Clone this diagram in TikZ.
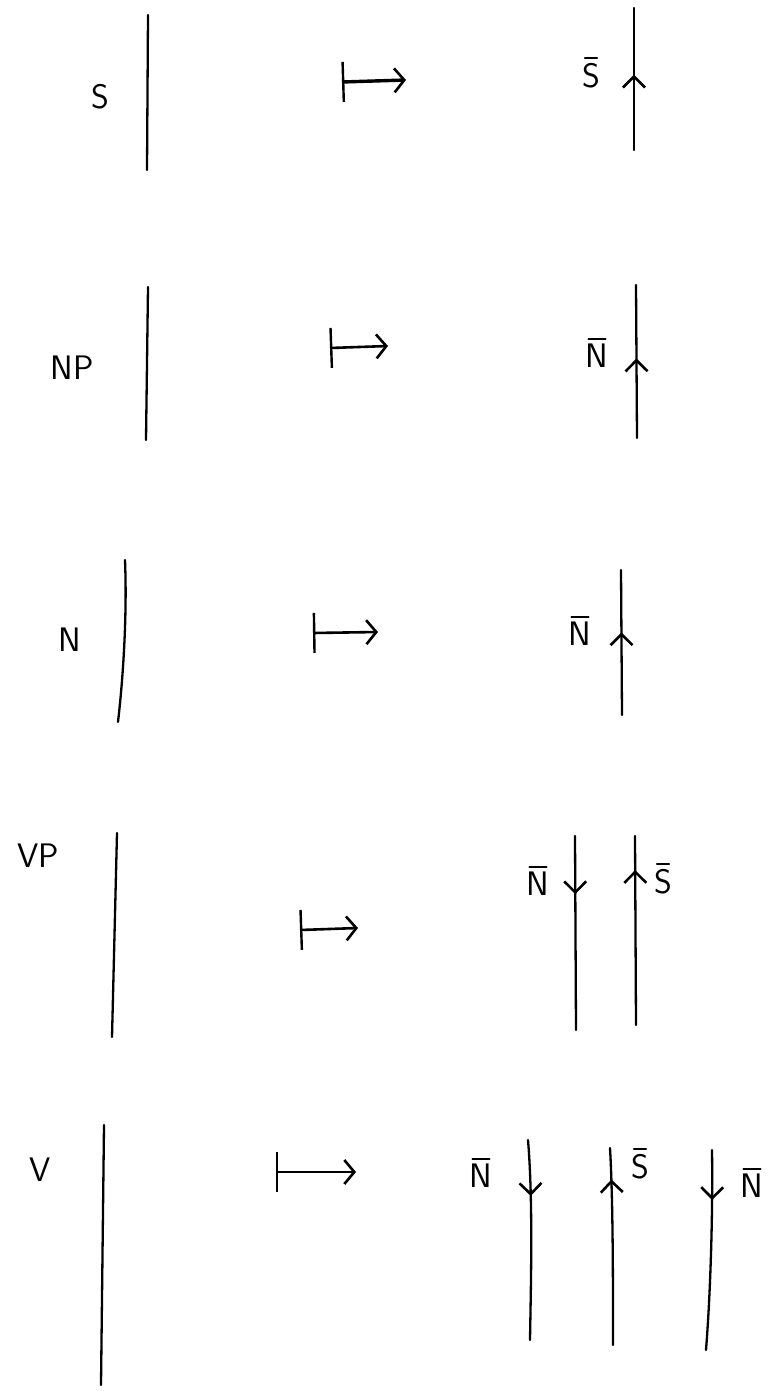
\documentclass[tikz,border=0pt]{standalone}
\usetikzlibrary{arrows.meta,decorations.markings}
\begin{document}
\begin{tikzpicture}[x=0.5pt,y=-0.5pt,
  every node/.style={font=\sffamily\fontsize{17}{17}\selectfont, inner sep=0pt},
  strand/.style={line width=1.15pt, line cap=round},
  flow/.style={strand, postaction={decorate},
    decoration={markings, mark=at position #1 with {\arrow{Straight Barb[length=5.5pt,width=11pt,line width=1.3pt]}}}},
  mapsto/.style={line width=1.3pt, {Bar[width=20pt,line width=1.2pt]}-{Straight Barb[length=5pt,width=12pt,line width=1.3pt]}},
  barline/.style={line width=0.8pt, line cap=round}
]
\useasboundingbox (0,0) rectangle (768,1391);

% overline drawn above a label node
\newcommand{\barover}[1]{\draw[barline] ([xshift=1.5pt,yshift=2.5pt]#1.north west) -- ([xshift=-1.5pt,yshift=2.5pt]#1.north east);}

% ---------- S ----------
\node (lS) at (100,97) {S};
\draw[strand] (148,15) -- (147,170);
\coordinate (mS1) at (342,82); \coordinate (mS2) at (406,80);
\draw[mapsto, line width=1.7pt] (mS1) -- (mS2);
\node (rS) at (591,76) {S}; \barover{rS}
\draw[flow=0.53] (634,150) -- (634,8);

% ---------- NP ----------
\node (lNP) at (72,368) {NP};
\draw[strand] (148,287) -- (146,440);
\coordinate (mNP1) at (330,348); \coordinate (mNP2) at (388,346);
\draw[mapsto] (mNP1) -- (mNP2);
\node (rNP) at (597,356) {N}; \barover{rNP}
\draw[flow=0.52] (637,438) -- (636,285);

% ---------- N ----------
\node (lN) at (70,640) {N};
\draw[strand] (125,560) .. controls (127,610) and (124,670) .. (118,722);
\coordinate (mN1) at (313,633); \coordinate (mN2) at (378,632);
\draw[mapsto] (mN1) -- (mN2);
\node (rN) at (580,634) {N}; \barover{rN}
\draw[flow=0.57] (622,715) -- (621,570);

% ---------- VP ----------
\node (lVP) at (38,856) {VP};
\draw[strand] (117,833) -- (112,1037);
\coordinate (mVP1) at (300,930); \coordinate (mVP2) at (358,928);
\draw[mapsto] (mVP1) -- (mVP2);
\node (rVP1) at (538,884) {N}; \barover{rVP1}
\draw[flow=0.3] (575,836) -- (576,1030);
\draw[flow=0.82] (636,1025) -- (635,836);
\node (rVP2) at (663,882) {S}; \barover{rVP2}

% ---------- V ----------
\node (lV) at (40,1170) {V};
\draw[strand] (104,1125) -- (101,1385);
\coordinate (mV1) at (276,1172); \coordinate (mV2) at (356,1172);
\draw[mapsto] (mV1) -- (mV2);
\node (rV1) at (481,1176) {N}; \barover{rV1}
\draw[flow=0.28] (528,1140) .. controls (533,1200) and (531,1280) .. (530,1340);
\draw[flow=0.84] (613,1345) .. controls (613,1280) and (613,1200) .. (610,1148);
\node (rV2) at (640,1167) {S}; \barover{rV2}
\draw[flow=0.25] (712,1150) .. controls (713,1220) and (710,1300) .. (706,1350);
\node (rV3) at (752,1186) {N}; \barover{rV3}
\end{tikzpicture}
\end{document}
